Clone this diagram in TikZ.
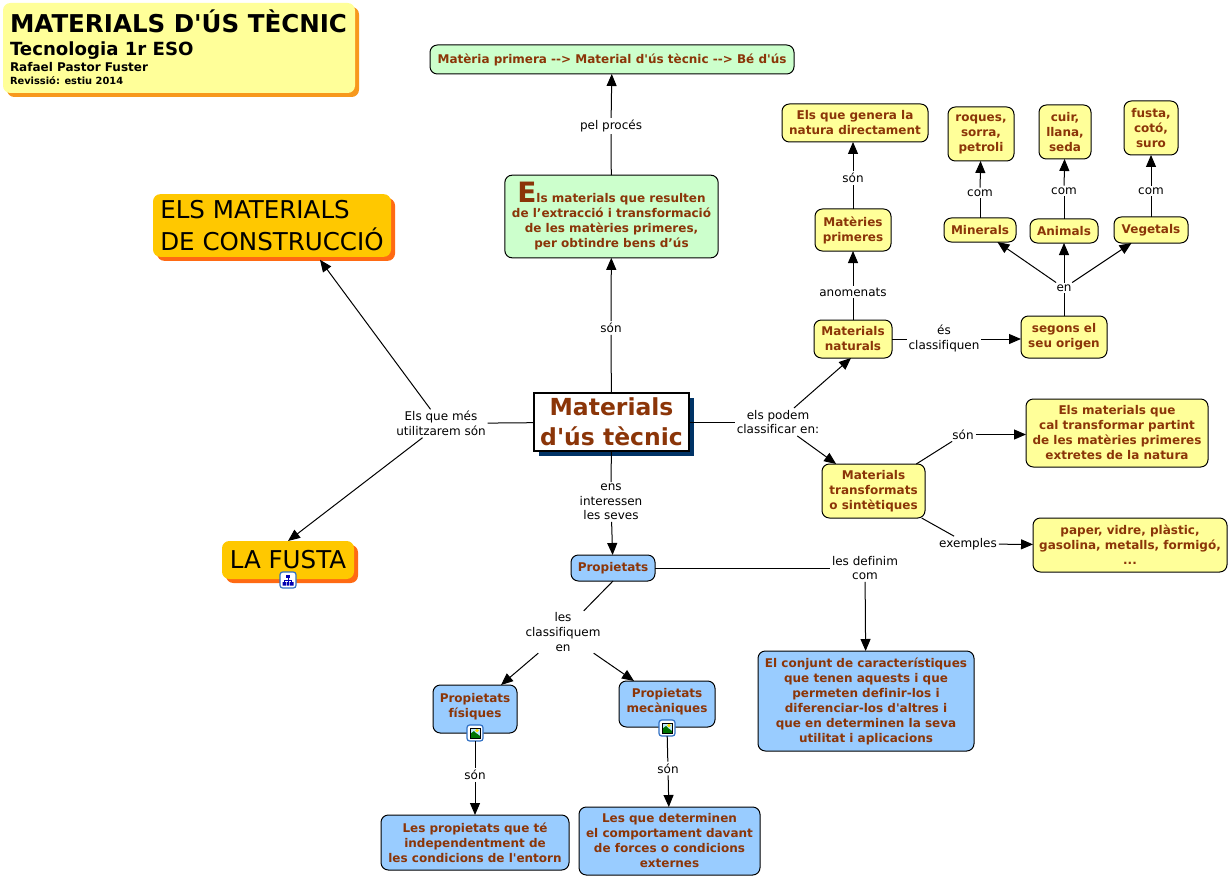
\documentclass[tikz,border=0pt]{standalone}
\usepackage{fontspec}
\setmainfont{DejaVu Sans}[Ligatures={TeXOff,NoCommon}]
\usetikzlibrary{arrows.meta,shadows,calc}
\definecolor{txtbrown}{HTML}{8B3508}
\definecolor{cyel}{HTML}{FFFF99}
\definecolor{cgrn}{HTML}{CCFFCC}
\definecolor{cblu}{HTML}{99CCFF}
\definecolor{cgold}{HTML}{FFC800}
\definecolor{sorange}{HTML}{FF6A13}
\definecolor{stitle}{HTML}{F7981D}
\definecolor{snavy}{HTML}{003366}
\definecolor{iconblue}{HTML}{2F6FC4}
\newcommand{\titleline}[4]{\hbox to 253.5pt{\vrule height #3 depth #4 width 0pt\fontsize{#1}{#1}\selectfont\smash{#2}\hss}}
\tikzset{
  cbox/.style={draw=black,line width=0.75pt,rounded corners=5.5pt,align=center,inner sep=0pt,outer sep=0pt,
     text=txtbrown,font=\fontsize{9}{11.25}\selectfont\bfseries},
  yel/.style={cbox,fill=cyel},
  grn/.style={cbox,fill=cgrn},
  blu/.style={cbox,fill=cblu},
  lbl/.style={align=center,inner sep=1.5pt,outer sep=0pt,text=black,font=\fontsize{9}{10.9}\selectfont},
  gold/.style={draw=none,fill=cgold,rounded corners=5.5pt,inner sep=0pt,outer sep=0pt,align=left,text=black,
     font=\fontsize{18.4}{23.5}\selectfont,
     general shadow={shadow xshift=3pt,shadow yshift=-3pt,fill=sorange}},
  con/.style={draw=black,line width=0.75pt},
  arr/.style={con,-{Triangle[length=9pt,width=7.5pt]}},
  iconbox/.style={draw=iconblue,fill=white,line width=0.9pt,rounded corners=2pt,minimum size=12pt,inner sep=0pt,outer sep=0pt},
  pics/imgicon/.style={code={
    \fill[cyan!25] (-5,-5) rectangle (5,5);
    \fill[green!45!black] (-5,5) -- (-5,1) -- (-1,-2) -- (1,0) -- (2.5,1) -- (5,3) -- (5,5) -- cycle;
    \fill[yellow!80!orange] (2,-2.5) circle (1.8);
    \draw[black,line width=0.4pt] (-5,-5) rectangle (5,5);
  }},
  pics/mapicon/.style={code={
    \fill[blue!70!black] (-1.8,-5.5) rectangle (1.8,-2);
    \draw[blue!70!black,line width=0.6pt] (0,-2) -- (0,0) (-3.8,0) -- (3.8,0) (-3.8,0) -- (-3.8,2) (3.8,0) -- (3.8,2) (0,0) -- (0,2);
    \fill[blue!70!black] (-5.5,2) rectangle (-2.2,5.5) (-1.4,2) rectangle (1.4,5.5) (2.2,2) rectangle (5.5,5.5);
  }},
}
\begin{document}
\begin{tikzpicture}[x=0.75pt,y=-0.75pt]
\useasboundingbox (0,0) rectangle (1230,877);
\fill[white] (0,0) rectangle (1230,877);
% title
\node[draw=none,fill=cyel,rounded corners=5.5pt,inner sep=0pt,outer sep=0pt,minimum width=264pt,minimum height=67.5pt,
  general shadow={shadow xshift=3pt,shadow yshift=-3pt,fill=stitle},
  text=black,font=\bfseries] (title) at (179,48)
  {\vbox{\offinterlineskip
   \titleline{18.4}{MATERIALS D'ÚS TÈCNIC}{17.25pt}{0pt}
   \titleline{13.6}{Tecnologia 1r ESO}{17.25pt}{0pt}
   \titleline{9}{Rafael Pastor Fuster}{12pt}{0pt}
   \titleline{7.4}{Revissió: estiu 2014}{9.75pt}{0.75pt}}};
% gold
\node[gold,minimum width=178.5pt,minimum height=47pt] (cons) at (272,225.5) {ELS MATERIALS\\DE CONSTRUCCIÓ};
\node[gold,minimum width=99pt,minimum height=28.5pt] (fusta) at (288,560) {LA FUSTA};
% central
\node[draw=black,fill=white,line width=1.5pt,inner sep=0pt,outer sep=0pt,minimum width=116pt,minimum height=43.5pt,align=center,
  text=txtbrown,font=\fontsize{17.6}{22.5}\selectfont\bfseries,
  general shadow={shadow xshift=3.5pt,shadow yshift=-3.5pt,fill=snavy}] (central) at (611.5,422) {Materials\\d'ús tècnic};
% concept boxes
\node[grn,minimum width=273pt,minimum height=21.75pt] (bens) at (612,59.5) {Matèria primera --> Material d'ús tècnic --> Bé d'ús};
\node[grn,minimum width=160pt,minimum height=62pt] (defin) at (611.5,216.5) {{\fontsize{21}{11.25}\selectfont E}ls materials que resulten\\de l’extracció i transformació\\de les matèries primeres,\\per obtindre bens d’ús};
\node[blu,minimum width=63pt,minimum height=19.5pt] (prop) at (613,568) {Propietats};
\node[blu,minimum width=63pt,minimum height=36pt] (fis) at (475,709) {Propietats\\físiques\\[-6pt]\mbox{}};
\node[blu,minimum width=72pt,minimum height=34.5pt] (mec) at (667,704) {Propietats\\mecàniques\\[-6pt]\mbox{}};
\node[blu,minimum width=141pt,minimum height=41.25pt] (lesprop) at (475,842.5) {Les propietats que té\\independentment de\\les condicions de l'entorn};
\node[blu,minimum width=135.75pt,minimum height=51pt] (lesque) at (669.5,841) {Les que determinen\\el comportament davant\\de forces o condicions\\externes};
\node[blu,minimum width=162pt,minimum height=75pt] (conjunt) at (866,701) {El conjunt de característiques\\que tenen aquests i que\\permeten definir-los i\\diferenciar-los d'altres i\\que en determinen la seva\\utilitat i aplicacions};
\node[yel,minimum width=77.25pt,minimum height=40.5pt] (transf) at (873.5,491) {Materials\\transformats\\o sintètiques};
\node[yel,minimum width=136.5pt,minimum height=51pt] (cal) at (1117,433) {Els materials que\\cal transformar partint\\de les matèries primeres\\extretes de la natura};
\node[yel,minimum width=145.5pt,minimum height=40.5pt] (paper) at (1130,545) {paper, vidre, plàstic,\\gasolina, metalls, formigó,\\...};
\node[yel,minimum width=58.5pt,minimum height=28.5pt] (nat) at (853,339) {Materials\\naturals};
\node[yel,minimum width=64.5pt,minimum height=31.5pt] (orig) at (1064,337) {segons el\\seu origen};
\node[yel,minimum width=57pt,minimum height=31.5pt] (prim) at (853,230) {Matèries\\primeres};
\node[yel,minimum width=109.5pt,minimum height=28.5pt] (gen) at (855,123) {Els que genera la\\natura directament};
\node[yel,minimum width=54pt,minimum height=18pt] (mine) at (980,230) {Minerals};
\node[yel,minimum width=51pt,minimum height=18pt] (anim) at (1064,231) {Animals};
\node[yel,minimum width=55.5pt,minimum height=19.5pt] (vege) at (1151,230) {Vegetals};
\node[yel,minimum width=49.5pt,minimum height=40.5pt] (roq) at (981,134) {roques,\\sorra,\\petroli};
\node[yel,minimum width=39pt,minimum height=40.5pt] (cuir) at (1065,132) {cuir,\\llana,\\seda};
\node[yel,minimum width=40.5pt,minimum height=40.5pt] (fust) at (1151,128) {fusta,\\cotó,\\suro};
% icons
\node[iconbox] (ifus) at (288,580) {};
\pic at (288,580) {mapicon};
\node[iconbox] (ifis) at (475,733) {};
\pic at (475,733) {imgicon};
\node[iconbox] (imec) at (667,728) {};
\pic at (667,728) {imgicon};
% labels
\node[lbl] (lson) at (611,328) {són};
\node[lbl] (lproc) at (611,126) {pel procés};
\node[lbl] (lmes) at (441,423.5) {Els que més\\utilitzarem són};
\node[lbl] (lpod) at (778,422) {els podem\\classificar en:};
\node[lbl] (lens) at (611,502) {ens\\interessen\\les seves};
\node[lbl] (ldef) at (865,568) {les definim\\com};
\node[lbl] (lcla) at (563,632) {les\\classifiquem\\en};
\node[lbl] (lsf) at (475,775) {són};
\node[lbl] (lsm) at (668,768.5) {són};
\node[lbl] (lano) at (853,292) {anomenats};
\node[lbl] (lsp) at (853,178) {són};
\node[lbl] (lescl) at (944,338.5) {és\\classifiquen};
\node[lbl] (len) at (1064,288) {en};
\node[lbl] (lc1) at (980,193) {com};
\node[lbl] (lc2) at (1064,191) {com};
\node[lbl] (lc3) at (1151,191) {com};
\node[lbl] (lst) at (963,434.5) {són};
\node[lbl] (lex) at (968,544) {exemples};
% connectors
\draw[con] (central) -- (lson);
\draw[arr] (lson) -- (defin);
\draw[con] (defin) -- (lproc);
\draw[arr] (lproc) -- (bens);
\draw[con] (central) -- (lmes);
\draw[arr] (lmes) -- ($(cons.south)+(48,3)$);
\draw[arr] (lmes) -- (fusta.north);
\draw[con] (central) -- (lpod);
\draw[arr] (lpod) -- ($(nat.south)+(-2,0)$);
\draw[arr] (lpod) -- (transf);
\draw[con] (central) -- (lens);
\draw[arr] (lens) -- (prop);
\draw[con] (prop.east) -- (ldef.west |- prop.east);
\draw[arr] (ldef) -- (conjunt);
\draw[con] (prop.south) -- (lcla);
\draw[arr] (lcla) -- ($(fis.north)+(26,0)$);
\draw[arr] (lcla) -- ($(mec.north)+(-33,0)$);
\draw[con] (ifis) -- (lsf);
\draw[arr] (lsf) -- (lesprop);
\draw[con] (imec) -- (lsm);
\draw[arr] (lsm) -- (lesque);
\draw[con] (nat) -- (lano);
\draw[arr] (lano) -- (prim);
\draw[con] (prim) -- (lsp);
\draw[arr] (lsp) -- ($(gen.south)+(-2,0)$);
\draw[con] (nat.east) -- (lescl.west |- nat.east);
\draw[arr] (lescl.east |- nat.east) -- (orig.west |- nat.east);
\draw[con] (orig) -- (len);
\draw[arr] (len) -- (mine);
\draw[arr] (len) -- (anim);
\draw[arr] (len) -- (vege);
\draw[con] (mine) -- (lc1);
\draw[arr] (lc1) -- (roq);
\draw[con] (anim) -- (lc2);
\draw[arr] (lc2) -- (cuir);
\draw[con] (vege) -- (lc3);
\draw[arr] (lc3) -- (fust);
\draw[con] (transf) -- (lst);
\draw[arr] (lst) -- (cal.west |- lst);
\draw[con] (transf) -- (lex);
\draw[arr] (lex) -- (paper);
\end{tikzpicture}
\end{document}
